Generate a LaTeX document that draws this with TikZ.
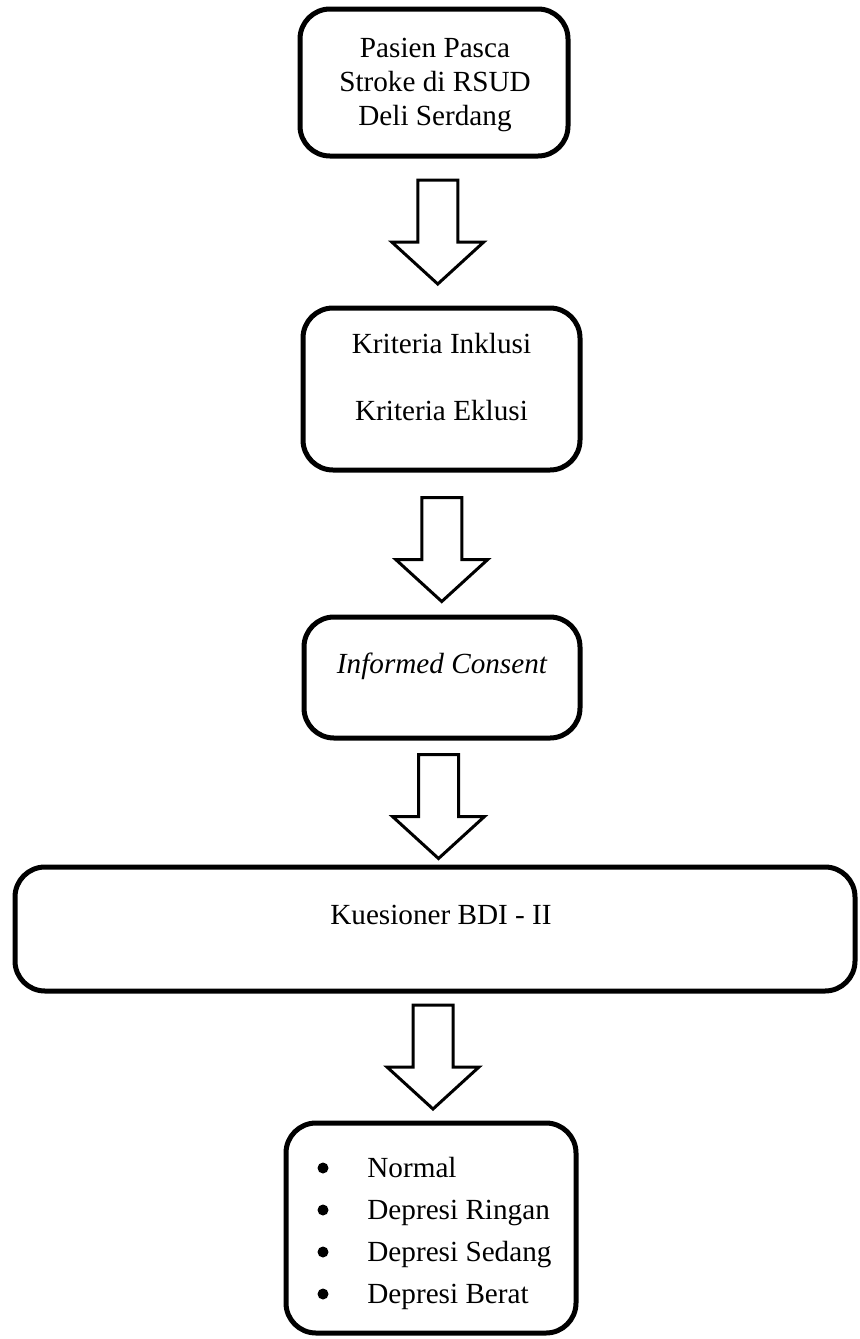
\documentclass[tikz,border=0pt]{standalone}
\usepackage{fontspec}
\setmainfont{Liberation Serif}
\usepackage{tikz}
\usetikzlibrary{calc}

\tikzset{
	kotak/.style={draw, line width=2.5pt, rounded corners=15pt, outer sep=0pt, inner sep=0pt},
	teks/.style={font=\fontsize{14.6}{17}\selectfont, inner sep=0pt, align=center},
	titik/.style={circle, fill=black, inner sep=0pt, minimum size=5.5pt},
	panah/.pic={
		\draw [line width=1.5pt, fill=white]
		(-20,-52) -- (20,-52) -- (20,10) -- (46,10) -- (0,52) -- (-46,10) -- (-20,10) -- cycle;
	}
}

\begin{document}
\begin{tikzpicture}[x=0.5pt, y=-0.5pt]
					\useasboundingbox (0,0) rectangle (860,1339);
					
					% kotak alur
					\node [kotak, minimum width=134pt, minimum height=73.5pt] (b1) at (434,82.5) {};
					\node [kotak, minimum width=138.5pt, minimum height=81pt] (b2) at (441.5,389) {};
					\node [kotak, minimum width=138pt, minimum height=60.5pt] (b3) at (442,677.5) {};
					\node [kotak, minimum width=420pt, minimum height=62pt] (b4) at (435,929) {};
					\node [kotak, minimum width=145pt, minimum height=105pt] (b5) at (431,1228) {};
					
					% isi kotak
					\node [teks] (t1) at (435,85) {Pasien Pasca\\Stroke di RSUD\\Deli Serdang};
					\node [teks, anchor=base] (t2a) at ($(b2.north)+(0,45)$) {Kriteria Inklusi};
					\node [teks, anchor=base] (t2b) at ($(b2.north)+(0,112)$) {Kriteria Eklusi};
					\node [teks, anchor=base] (t3) at ($(b3.north)+(0,56)$) {\itshape Informed Consent};
					\node [teks, anchor=base] (t4) at ($(b4.north)+(6,57)$) {Kuesioner BDI - II};
					
					\foreach \t [count=\i] in {Normal, Depresi Ringan, Depresi Sedang, Depresi Berat}{
						\node [titik] (d\i) at (323,1126+42*\i) {};
						\node [teks, anchor=base west] (i\i) at (367,1135+42*\i) {\t};
					}
					
					% panah ke bawah
					\pic at ($(b1.south)!.5!(b2.north)$) {panah};
					\pic at ($(b2.south)!.5!(b3.north)+(0,6)$) {panah};
					\pic at ($(b3.south)!.5!(b4.north)+(0,4)$) {panah};
					\pic at ($(b4.south)!.5!(b5.north)$) {panah};
				\end{tikzpicture}
\end{document}
